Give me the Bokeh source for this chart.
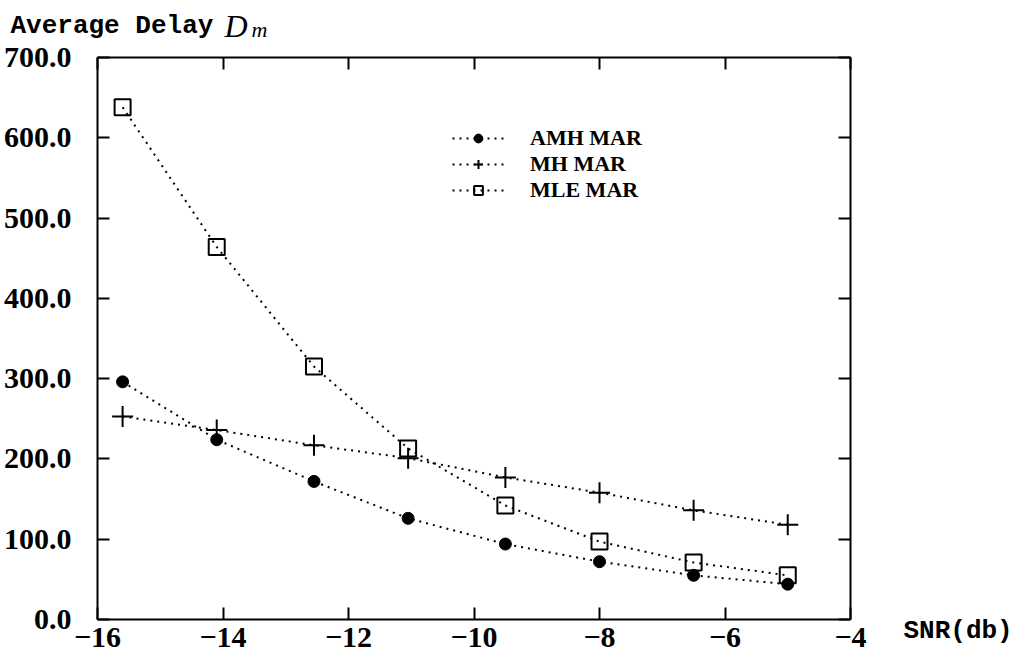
from bokeh.plotting import figure
from bokeh.models import Range1d, LinearAxis, FixedTicker, Legend, LegendItem, Label
from bokeh.embed import file_html
from bokeh.resources import INLINE

# ---- data ----
snr = [-15.6, -14.1, -12.55, -11.05, -9.5, -8.0, -6.5, -5.0]
amh_mar = [296, 224, 172, 126, 94, 72, 55, 44]
mh_mar = [253, 236, 217, 201, 177, 158, 136, 118]
mle_mar = [638, 464, 315, 213, 142, 97, 71, 55]
series_names = ["AMH MAR", "MH MAR", "MLE MAR"]

x_ticks = [-16, -14, -12, -10, -8, -6, -4]
y_ticks = [0, 100, 200, 300, 400, 500, 600, 700]
x_tick_labels = ["\u221216", "\u221214", "\u221212", "\u221210", "\u22128", "\u22126", "\u22124"]
y_tick_labels = ["0.0", "100.0", "200.0", "300.0", "400.0", "500.0", "600.0", "700.0"]

SERIF = "Liberation Serif"
MONO = "Liberation Mono"

W, H = 1019, 658
X0, X1, Y0, Y1 = -16, -4, 0, 700
FL, FR, FT, FB = 97, 850, 57, 619          # box edges in pixels
PX_X = (FR - FL) / (X1 - X0)
PX_Y = (FB - FT) / (Y1 - Y0)

# the frame covers the whole canvas; the axes are drawn at fixed positions
p = figure(width=W, height=H, output_backend="svg", toolbar_location=None,
           x_range=Range1d(X0 - FL / PX_X, X1 + (W - FR) / PX_X),
           y_range=Range1d(Y0 - (H - FB) / PX_Y, Y1 + FT / PX_Y),
           min_border=0, x_axis_location=None, y_axis_location=None)
p.grid.visible = False
p.outline_line_color = None
p.background_fill_color = "white"
p.border_fill_color = "white"

def style_axis(ax, ticks, labels, show_labels, standoff, loc, bounds):
    ax.ticker = FixedTicker(ticks=ticks)
    ax.fixed_location = loc
    ax.bounds = bounds
    ax.axis_line_color = "black"
    ax.axis_line_width = 2
    ax.major_tick_in = 12
    ax.major_tick_out = 0
    ax.major_tick_line_width = 2
    ax.minor_tick_in = 0
    ax.minor_tick_out = 0
    ax.major_label_standoff = standoff
    if show_labels:
        ax.major_label_overrides = {t: l for t, l in zip(ticks, labels)}
        ax.major_label_text_font = SERIF
        ax.major_label_text_font_size = "30px"
        ax.major_label_text_font_style = "bold"
        ax.major_label_text_color = "black"
    else:
        ax.major_label_text_font_size = "0px"
        ax.major_label_text_alpha = 0

xb = LinearAxis()
style_axis(xb, x_ticks, x_tick_labels, True, 8, Y0, (X0, X1))
p.add_layout(xb, "below")
yl = LinearAxis()
style_axis(yl, y_ticks, y_tick_labels, True, 26, X0, (Y0, Y1))
p.add_layout(yl, "left")
xt = LinearAxis()
style_axis(xt, x_ticks, x_tick_labels, False, 0, Y1, (X0, X1))
p.add_layout(xt, "above")
yr = LinearAxis()
style_axis(yr, y_ticks, y_tick_labels, False, 0, X1, (Y0, Y1))
p.add_layout(yr, "right")

dash = "2 5"
l1 = p.line(snr, amh_mar, line_color="black", line_width=2, line_dash=dash)
m1 = p.scatter(snr, amh_mar, marker="circle", size=12, fill_color="black", line_color="black")
l2 = p.line(snr, mh_mar, line_color="black", line_width=2, line_dash=dash)
m2 = p.scatter(snr, mh_mar, marker="cross", size=21, line_color="black", line_width=2)
l3 = p.line(snr, mle_mar, line_color="black", line_width=2, line_dash=dash)
m3 = p.scatter(snr, mle_mar, marker="square", size=16, fill_alpha=0, line_color="black", line_width=2)

# one legend per row so the row spacing matches the reference
rows = [(series_names[0], [l1, m1], 138), (series_names[1], [l2, m2], 164), (series_names[2], [l3, m3], 190)]
for name, rends, cy in rows:
    lg = Legend(items=[LegendItem(label=name, renderers=rends)],
                location=(452, int(H - cy - 13)), padding=0, spacing=0, margin=0,
                glyph_width=52, glyph_height=22, label_height=22,
                label_standoff=26, border_line_alpha=0, background_fill_alpha=0,
                label_text_font=SERIF, label_text_font_size="22px",
                label_text_font_style="bold", label_text_color="black")
    p.add_layout(lg, "center")

# axis titles (screen units: frame == canvas, origin bottom-left)
def lab(px, py, text, font, size, style):
    return Label(x=px, y=H - py, x_units="screen", y_units="screen", text=text,
                 text_font=font, text_font_size=size, text_font_style=style,
                 text_baseline="alphabetic", text_color="black")

p.add_layout(lab(10, 25, "Average Delay", MONO, "26px", "bold"))
p.add_layout(lab(224, 25, "D", SERIF, "32px", "italic"))
p.add_layout(lab(251, 29, "m", SERIF, "22px", "italic"))
p.add_layout(lab(903, 630, "SNR(db)", MONO, "26px", "bold"))

open("out.html", "w").write(file_html(p, INLINE))
